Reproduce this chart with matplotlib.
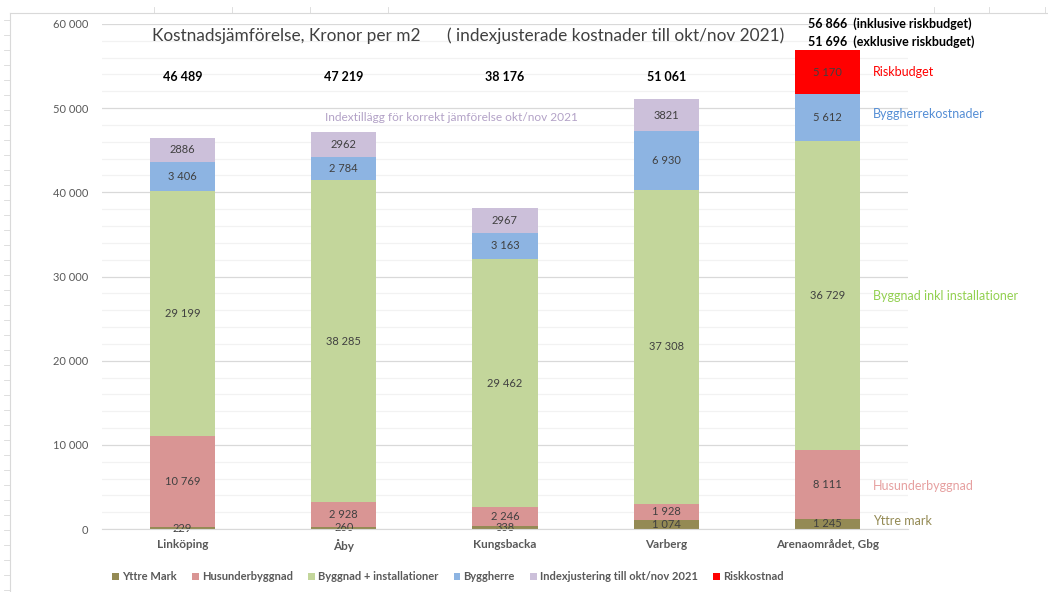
import matplotlib
matplotlib.use("Agg")
import matplotlib.pyplot as plt
from matplotlib.lines import Line2D
from matplotlib.patches import Patch
import numpy as np

plt.rcParams['font.family'] = ['Lato', 'DejaVu Sans']

categories = ["Linköping", "Åby", "Kungsbacka", "Varberg", "Arenaområdet, Gbg"]
yttre_mark = [229, 260, 338, 1074, 1245]
husunderbyggnad = [10769, 2928, 2246, 1928, 8111]
byggnad = [29199, 38285, 29462, 37308, 36729]
byggherre = [3406, 2784, 3163, 6930, 5612]
indexjustering = [2886, 2962, 2967, 3821, 0]
riskkostnad = [0, 0, 0, 0, 5170]
totals = ["46 489", "47 219", "38 176", "51 061"]
series_names = ["Yttre Mark", "Husunderbyggnad", "Byggnad + installationer",
                "Byggherre", "Indexjustering till okt/nov 2021", "Riskkostnad"]
colors = ["#948A54", "#D99594", "#C3D69B", "#8DB4E2", "#CCC0DA", "#FF0000"]

def fmt(v):
    return f"{v:,}".replace(",", " ")

fig = plt.figure(figsize=(10.48, 5.92), dpi=100)
ax = fig.add_axes([102/1048, 1 - 529/592, (908-102)/1048, (529-24)/592])

x = np.arange(len(categories))
series = [yttre_mark, husunderbyggnad, byggnad, byggherre, indexjustering, riskkostnad]
bottom = np.zeros(len(categories))
for si, (vals, col) in enumerate(zip(series, colors)):
    vals = np.array(vals, dtype=float)
    ax.bar(x, vals, 0.405, bottom=bottom, color=col, zorder=3)
    for i, v in enumerate(vals):
        if v > 0:
            lab = str(int(v)) if si == 4 else fmt(int(v))
            ax.text(x[i], bottom[i] + v/2, lab, ha='center', va='center',
                    fontsize=8, color='#404040', zorder=4)
    bottom += vals

ax.set_xlim(-0.5, len(categories) - 0.5)
ax.set_ylim(0, 60000)
ax.set_yticks(np.arange(0, 60001, 10000))
ax.set_yticklabels([fmt(v) for v in range(0, 60001, 10000)], fontsize=8, color='#595959')
ax.set_yticks(np.arange(0, 60001, 2000), minor=True)
ax.tick_params(axis='y', which='both', length=0, pad=10)
ax.set_xticks(x)
ax.set_xticklabels(categories, fontsize=8.5, fontweight='bold', color='#595959')
ax.tick_params(axis='x', length=0, pad=7)
ax.grid(axis='y', which='major', color='#D9D9D9', lw=0.9, zorder=0)
ax.grid(axis='y', which='minor', color='#F2F2F2', lw=0.9, zorder=0)
for s in ['top', 'right', 'left']:
    ax.spines[s].set_visible(False)
ax.spines['bottom'].set_color('#D9D9D9')
ax.spines['bottom'].set_zorder(5)

# totals
for i, t in enumerate(totals):
    ax.text(x[i], 53700, t, ha='center', va='center', fontsize=9,
            fontweight='bold', color='black')
ax.text(x[4] - 0.12, 60050, "56 866  (inklusive riskbudget)", ha='left', va='center',
        fontsize=9, fontweight='bold', color='black', clip_on=False)
ax.text(x[4] - 0.12, 57950, "51 696  (exklusive riskbudget)", ha='left', va='center',
        fontsize=9, fontweight='bold', color='black', clip_on=False)

# title
fig.text(152/1048, 1 - 36/592, "Kostnadsjämförelse, Kronor per m2",
         ha='left', va='center', fontsize=12.4, color='#404040')
fig.text(447/1048, 1 - 36/592, "( indexjusterade kostnader till okt/nov 2021)",
         ha='left', va='center', fontsize=12.4, color='#404040')

# annotation
ax.text(1.665, 48950, "Indextillägg för korrekt jämförelse okt/nov 2021", ha='center',
        va='center', fontsize=8.6, color='#B3A2C7')

# right labels
rlabels = [("Riskbudget", 54300, "#FF0000"),
           ("Byggherrekostnader", 49300, "#558ED5"),
           ("Byggnad inkl installationer", 27700, "#92D050"),
           ("Husunderbyggnad", 5100, "#E6A0A0"),
           ("Yttre mark", 950, "#948A54")]
for txt, yv, col in rlabels:
    ax.text(4.28, yv, txt, ha='left', va='center', fontsize=9, color=col, clip_on=False)

# legend
handles = [Patch(facecolor=c, edgecolor='none') for c in colors]
leg = fig.legend(handles, series_names, loc='center', bbox_to_anchor=(448/1048, 1 - 577/592),
                 ncol=6, frameon=False, fontsize=8, handlelength=0.6, handleheight=0.6,
                 handletextpad=0.3, columnspacing=1.35)
for t in leg.get_texts():
    t.set_fontweight('bold')
    t.set_color('#595959')

# spreadsheet frame
fig.add_artist(Line2D([10/1048, 10/1048], [0, 1 - 13/592], color='#D9D9D9', lw=0.8))
fig.add_artist(Line2D([10/1048, 1], [1 - 13/592, 1 - 13/592], color='#D9D9D9', lw=0.8))
for yy in np.arange(20, 592, 15):
    fig.add_artist(Line2D([4/1048, 10/1048], [1 - yy/592, 1 - yy/592], color='#D9D9D9', lw=0.6))
for xx in [154, 232, 310, 388, 934, 989, 1045]:
    fig.add_artist(Line2D([xx/1048, xx/1048], [1 - 7/592, 1 - 13/592], color='#D9D9D9', lw=0.6))

fig.savefig("out.png", dpi=100)
